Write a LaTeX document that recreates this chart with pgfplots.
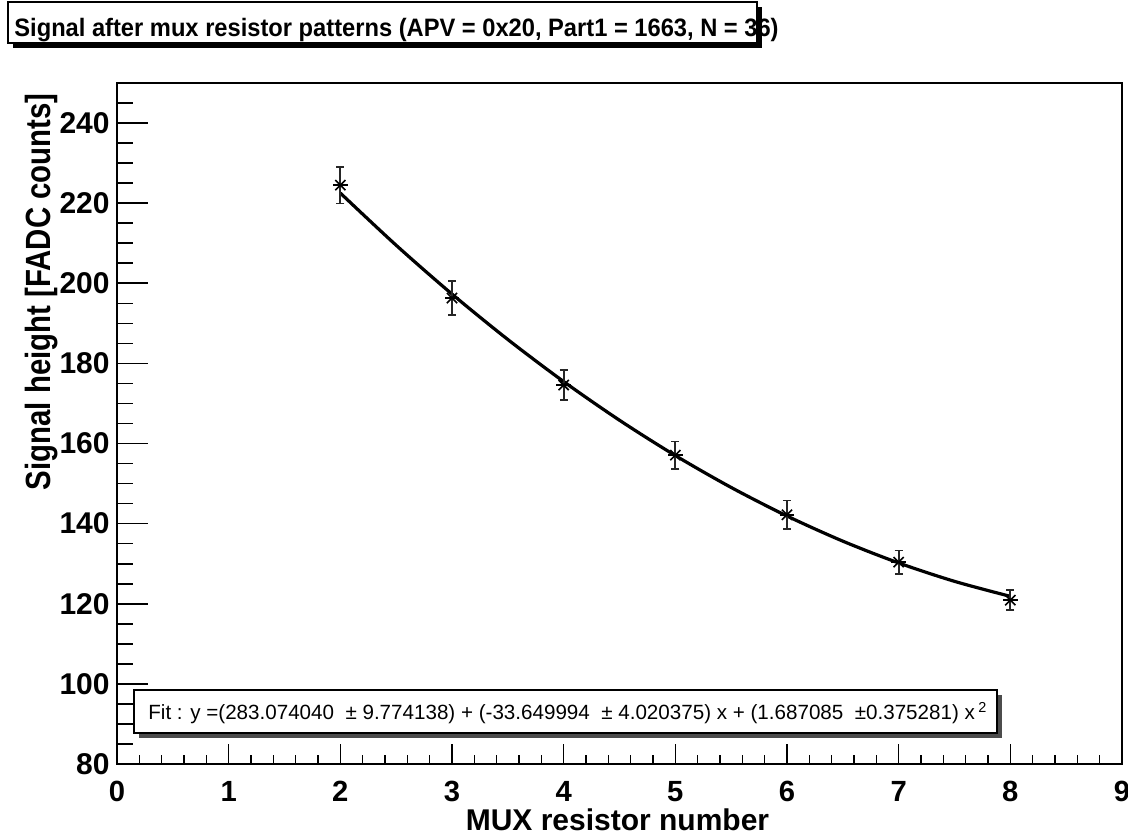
\documentclass[border=0pt]{standalone}
\usepackage{fontspec}
\setmainfont{Liberation Sans}
\usepackage{pgfplots}
\usepackage{pgfplotstable}
\pgfplotsset{compat=1.18}

\pgfplotstableread{
x y e
2 224.5 4.6
3 196.3 4.2
4 174.6 3.7
5 157.1 3.4
6 142.2 3.6
7 130.4 2.9
8 120.9 2.5
}\datatable

\pgfplotstableread{
x y
2.0 222.522
2.5 209.493
3.0 197.308
3.5 185.966
4.0 175.467
4.5 165.812
5.0 157.001
5.5 149.033
6.0 141.909
6.5 135.628
7.0 130.191
7.5 125.598
8.0 121.847
}\fittable

\begin{document}
\begin{tikzpicture}
\useasboundingbox (-58.5pt,-35pt) rectangle (505.5pt,382pt);
\pgfplotsset{rootaxis/.style={
  width=502.5pt, height=340.5pt, scale only axis,
  xmin=0, xmax=9, ymin=80, ymax=250,
  tick align=inside,
  axis line style={line width=1pt, black},
  every tick/.style={black, line width=0.8pt},
  /pgf/number format/assume math mode=true,
  ticklabel style={font=\bfseries\fontsize{15}{15}\selectfont, inner sep=0pt},
}}
\begin{axis}[rootaxis,
  xtick={0,1,...,9}, minor x tick num=4, ytick=\empty,
  xtick pos=bottom,
  major tick length=10pt, minor tick length=4.5pt,
  xticklabel style={anchor=north, font=\bfseries\fontsize{14.6}{14.6}\selectfont}, xticklabel shift=8.5pt,
]
\end{axis}
\begin{axis}[rootaxis,
  xtick=\empty, ytick={80,100,...,240}, minor ytick={85,90,...,245},
  ytick pos=left,
  major tick length=15.5pt, minor tick length=8pt,
  yticklabel style={anchor=east}, yticklabel shift=3.5pt,
]
\addplot[black, line width=1.6pt, smooth] table[x=x, y=y] {\fittable};
\addplot[black, only marks, mark=x, mark size=3.6pt, mark options={line width=0.8pt},
  error bars/.cd, y dir=both, y explicit,
  error bar style={line width=0.9pt, black!85},
  error mark options={rotate=90, mark size=2pt, line width=0.9pt, black!85}]
  table[x=x, y=y, y error=e] {\datatable};
\addplot[black, only marks, mark=-, mark size=3.6pt, mark options={line width=0.8pt}]
  table[x=x, y=y] {\datatable};
\end{axis}
% fit box
\fill[black!70] (11pt,13pt) rectangle (442.5pt,34.5pt);
\draw[fill=white, line width=0.7pt] (8.5pt,15.5pt) rectangle (440pt,37pt);
\node[anchor=base west, inner sep=0pt] at (15.5pt,22pt) {\fontsize{10.3}{12}\selectfont Fit : y =(283.074040\ \ ± 9.774138) + (-33.649994\ \ ± 4.020375) x + (1.687085\ \ ±0.375281) x\,\textsuperscript{2}};
% title box
\fill[black] (-52pt,358pt) rectangle (322.5pt,378.5pt);
\draw[fill=white, line width=0.8pt] (-54.5pt,360.5pt) rectangle (320pt,381pt);
\node[anchor=base west, inner sep=0pt] at (-51.5pt,363.5pt) {\scalebox{0.94}[1]{\bfseries\fontsize{12.6}{14}\selectfont Signal after mux resistor patterns (APV = 0x20, Part1 = 1663, N = 36)}};
% axis titles
\node[anchor=base east, rotate=90, inner sep=0pt] at (-33pt,335.5pt) {\scalebox{0.84}[1]{\bfseries\fontsize{17.5}{18}\selectfont Signal height [FADC counts]}};
\node[anchor=base, inner sep=0pt] at (250.25pt,-33pt) {\bfseries\fontsize{15}{16}\selectfont MUX resistor number};
\end{tikzpicture}
\end{document}
